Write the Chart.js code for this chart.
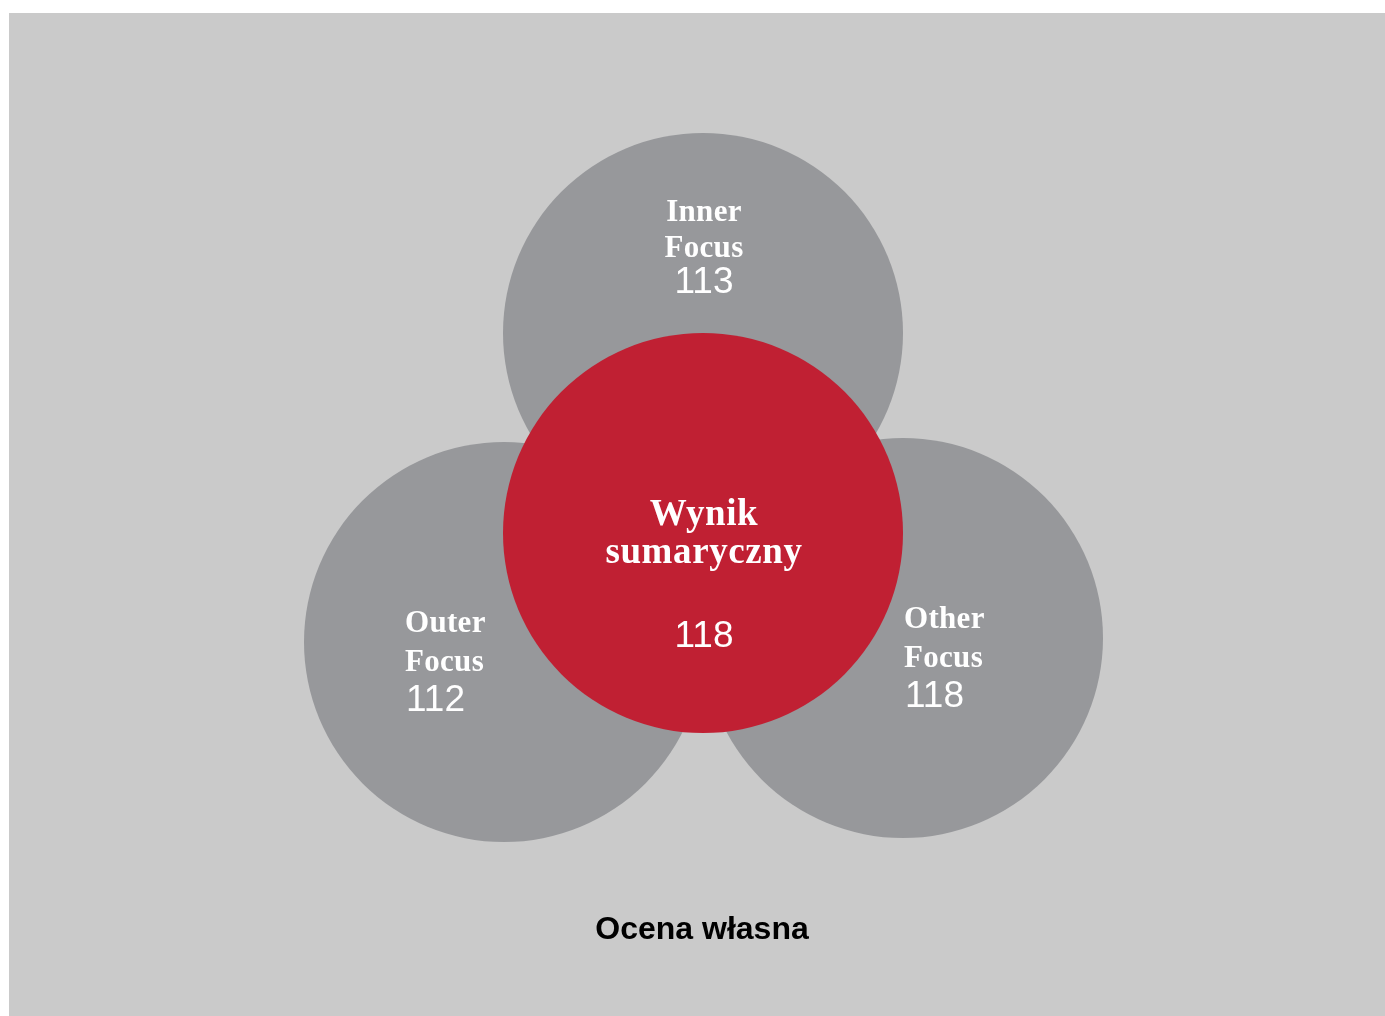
<!DOCTYPE html>
<html>
<head>
<meta charset="utf-8">
<script src="https://cdn.jsdelivr.net/npm/chart.js@4"></script>
<style>
  body { margin: 0; background: #fff; }
  #wrap { position: absolute; left: 9px; top: 13px; width: 1376px; height: 1003px; background: #cacaca; }
</style>
</head>
<body>
<div id="wrap"><canvas id="venn" width="1376" height="1003"></canvas></div>
<script>
// scores
const focusNames = [['Inner', 'Focus'], ['Outer', 'Focus'], ['Other', 'Focus']];
const focusScores = [113, 112, 118];
const totalName = ['Wynik', 'sumaryczny'];
const totalScore = 118;
const chartTitle = 'Ocena własna';

// layout of the circles, in axis units (1 unit = 100px)
const focusCenters = [{ x: 0, y: 2 }, { x: -1.99, y: -1.09 }, { x: 2, y: -1.05 }];
const totalCenter = [{ x: 0, y: 0 }];
const circleR = 2;

// text offsets from each circle centre (px)
const focusText = [
  { align: 'center', dx: 1, lines: [-112, -76], num: -40 },
  { align: 'left', dx: -99, lines: [-10, 29], num: 69 },
  { align: 'left', dx: 1, lines: [-10, 29], num: 69 }
];

const radiusFromScale = (ctx) => {
  const s = ctx.chart.scales.x;
  if (!s) return 0;
  return Math.abs(s.getPixelForValue(circleR) - s.getPixelForValue(0));
};

const labelPlugin = {
  id: 'vennLabels',
  afterDatasetsDraw(chart) {
    const ctx = chart.ctx;
    ctx.save();
    ctx.fillStyle = '#ffffff';
    ctx.textBaseline = 'alphabetic';

    //gray circles
    chart.getDatasetMeta(0).data.forEach((pt, i) => {
      const t = focusText[i];
      ctx.textAlign = t.align;
      ctx.font = 'bold 31px "Liberation Serif", "Times New Roman", serif';
      ctx.letterSpacing = '0.3px';
      focusNames[i].forEach((line, j) => ctx.fillText(line, pt.x + t.dx, pt.y + t.lines[j]));
      ctx.letterSpacing = '0px';
      ctx.font = '37px "Liberation Sans", Arial, sans-serif';
      ctx.fillText(String(focusScores[i]), pt.x + t.dx + (t.align === 'left' ? 1 : 0), pt.y + t.num);
    });

    //red circle
    const c = chart.getDatasetMeta(1).data[0];
    ctx.textAlign = 'center';
    ctx.font = 'bold 37px "Liberation Serif", "Times New Roman", serif';
    ctx.letterSpacing = '0.6px';
    ctx.fillText(totalName[0], c.x + 1, c.y - 8);
    ctx.fillText(totalName[1], c.x + 1, c.y + 30);
    ctx.letterSpacing = '0px';
    ctx.font = '37px "Liberation Sans", Arial, sans-serif';
    ctx.fillText(String(totalScore), c.x + 1, c.y + 114);
    ctx.restore();
  }
};

new Chart(document.getElementById('venn').getContext('2d'), {
  type: 'scatter',
  data: {
    datasets: [
      {
        label: 'focus',
        data: focusCenters,
        pointBackgroundColor: '#97989b',
        pointBorderWidth: 0,
        pointRadius: radiusFromScale,
        pointHoverRadius: radiusFromScale,
        order: 1,
        clip: false
      },
      {
        label: 'total',
        data: totalCenter,
        pointBackgroundColor: '#c02033',
        pointBorderWidth: 0,
        pointRadius: radiusFromScale,
        pointHoverRadius: radiusFromScale,
        order: 0,
        clip: false
      }
    ]
  },
  options: {
    responsive: false,
    animation: false,
    events: [],
    layout: { padding: { left: 10, right: 0, top: 0, bottom: 0 } },
    scales: {
      x: { type: 'linear', display: false, min: -6.84, max: 6.82 },
      y: { type: 'linear', display: false, min: -3.778, max: 5.20 }
    },
    plugins: {
      legend: { display: false },
      tooltip: { enabled: false },
      title: {
        display: true,
        position: 'bottom',
        text: chartTitle,
        color: '#000000',
        font: { family: '"Liberation Sans", Arial, sans-serif', size: 32, weight: 'bold', lineHeight: 1.2 },
        padding: { top: 0, bottom: 66.8 }
      }
    }
  },
  plugins: [labelPlugin]
});
</script>
</body>
</html>
